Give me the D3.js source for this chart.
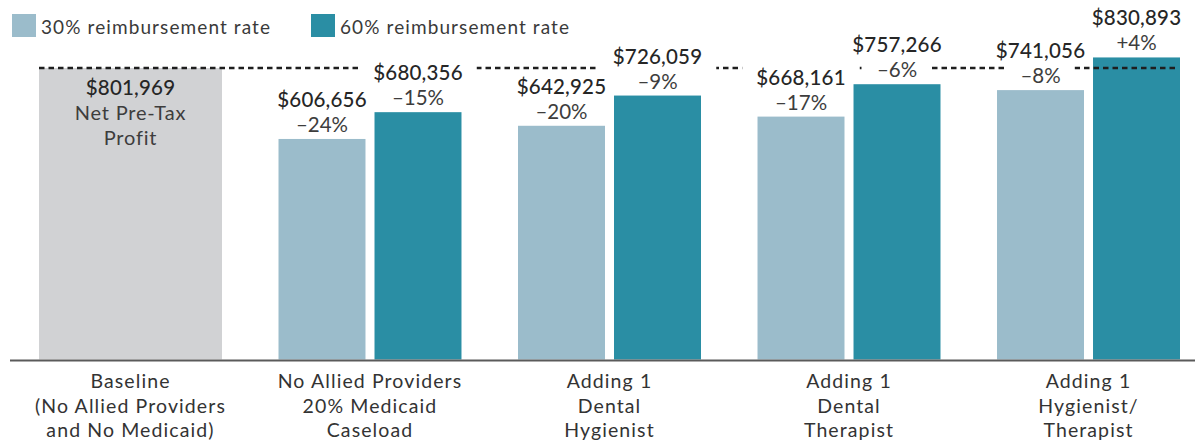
<!DOCTYPE html>
<html>
<head>
<meta charset="utf-8">
<script src="https://cdn.jsdelivr.net/npm/d3@7"></script>
<style>
  body { margin: 0; background: #fff; }
  svg { display: block; font-family: Lato, "Open Sans", sans-serif; }
</style>
</head>
<body>
<div id="chart"></div>
<script>
// data
const categories = ["Baseline", "No Allied 20%", "Adding Hygienist", "Adding Therapist", "Adding Hyg/Ther"]
const categoryLines = [
    ["Baseline", "(No Allied Providers", "and No Medicaid)"],
    ["No Allied Providers", "20% Medicaid", "Caseload"],
    ["Adding 1", "Dental", "Hygienist"],
    ["Adding 1", "Dental", "Therapist"],
    ["Adding 1", "Hygienist/", "Therapist"]
]
const baselineProfit = 801969
const baselineText = ["Net Pre-Tax", "Profit"]
const seriesNames = ["30% reimbursement rate", "60% reimbursement rate"]
const rate30 = [606656, 642925, 668161, 741056]
const rate60 = [680356, 726059, 757266, 830893]
const pct30 = ["\u201324%", "\u201320%", "\u201317%", "\u20138%"]
const pct60 = ["\u201315%", "\u20139%", "\u20136%", "+4%"]

const W = 1195, H = 443
const colors = { base: "#d1d2d4", r30: "#9bbccb", r60: "#2a8ea4" }

const svg = d3.select("#chart").append("svg")
    .attr("width", W)
    .attr("height", H)

const x = d3.scaleBand()
    .domain(categories)
    .range([39, 1180])
    .paddingInner(0.236)
    .paddingOuter(0)

const xInner = d3.scaleBand()
    .domain(["r30", "r60"])
    .range([0, x.bandwidth()])
    .paddingInner(0.094)

const y = d3.scaleLinear()
    .domain([0, 850000])
    .range([359.5, 50.5])

const fmt = d3.format("$,")

// rows for the paired bars
const bars = []
categories.slice(1).forEach((c, i) => {
    bars.push({ cat: c, key: "r30", value: rate30[i], pct: pct30[i] })
    bars.push({ cat: c, key: "r60", value: rate60[i], pct: pct60[i] })
})

// legend
const legend = svg.append("g")
legend.selectAll("g")
    .data(seriesNames)
    .join("g")
    .attr("transform", (d, i) => "translate(" + (12 + i * 299) + ",14)")
    .each(function(d, i) {
        const g = d3.select(this)
        g.append("rect").attr("width", 24).attr("height", 23)
            .attr("fill", i === 0 ? colors.r30 : colors.r60)
        g.append("text").attr("x", 29).attr("y", 19.5)
            .attr("font-size", 19).attr("letter-spacing", 1.1)
            .attr("fill", "#3a3a3a").text(d)
    })

// baseline bar
svg.append("rect")
    .attr("x", x(categories[0]))
    .attr("y", y(baselineProfit))
    .attr("width", x.bandwidth())
    .attr("height", y(0) - y(baselineProfit))
    .attr("fill", colors.base)

// grouped bars
svg.append("g").selectAll("rect")
    .data(bars)
    .join("rect")
    .attr("x", d => x(d.cat) + xInner(d.key))
    .attr("y", d => y(d.value))
    .attr("width", xInner.bandwidth())
    .attr("height", d => y(0) - y(d.value))
    .attr("fill", d => colors[d.key])

// dashed reference line at baseline profit
const refY = y(baselineProfit)
svg.append("line")
    .attr("x1", x.range()[0])
    .attr("x2", x.range()[1] - 2)
    .attr("y1", refY)
    .attr("y2", refY)
    .attr("stroke", "#1e1e1e")
    .attr("stroke-width", 2.6)
    .attr("stroke-dasharray", "5.5,4")
const maskTop = svg.append("g")

// bar labels
const labels = svg.append("g").attr("text-anchor", "middle")
const lab = labels.selectAll("g")
    .data(bars)
    .join("g")
    .attr("transform", d => "translate(" + (x(d.cat) + xInner(d.key) + xInner.bandwidth() / 2) + "," + y(d.value) + ")")
lab.append("text")
    .attr("y", -32)
    .attr("font-size", 20.5)
    .attr("font-weight", 500)
    .attr("letter-spacing", 0.2)
    .attr("fill", "#262626")
    .text(d => fmt(d.value))
lab.append("text")
    .attr("y", -7)
    .attr("font-size", 20.5)
    .attr("fill", "#3d3d3d")
    .text(d => d.pct)

// white gaps in the dashed line where a label crosses it
labels.selectAll("text").each(function() {
    const b = this.getBBox()
    const t = this.parentNode.transform.baseVal.consolidate().matrix
    const top = b.y + t.f, bottom = b.y + b.height + t.f + 4
    if (refY >= top && refY <= bottom) {
        maskTop.append("rect")
            .attr("x", b.x + t.e - 14)
            .attr("y", refY - 3)
            .attr("width", b.width + 28)
            .attr("height", 6)
            .attr("fill", "#fff")
    }
})

// baseline label inside the grey bar
const baseLab = svg.append("g")
    .attr("text-anchor", "middle")
    .attr("transform", "translate(" + (x(categories[0]) + x.bandwidth() / 2) + "," + refY + ")")
baseLab.append("text")
    .attr("y", 27)
    .attr("font-size", 20.5)
    .attr("font-weight", 500)
    .attr("letter-spacing", 0.2)
    .attr("fill", "#262626")
    .text(fmt(baselineProfit))
baseLab.selectAll("text.sub")
    .data(baselineText)
    .join("text")
    .attr("class", "sub")
    .attr("y", (d, i) => 52 + i * 25)
    .attr("font-size", 20)
    .attr("letter-spacing", 0.8)
    .attr("fill", "#3d3d3d")
    .text(d => d)

// axis line
svg.append("line")
    .attr("x1", 10).attr("x2", W)
    .attr("y1", y(0) + 1).attr("y2", y(0) + 1)
    .attr("stroke", "#5a5a5a")
    .attr("stroke-width", 2)

// category labels
const catLab = svg.append("g").attr("text-anchor", "middle")
catLab.selectAll("text")
    .data(categories)
    .join("text")
    .attr("x", d => x(d) + x.bandwidth() / 2)
    .attr("y", 388)
    .attr("font-size", 19.5)
    .attr("letter-spacing", 1.1)
    .attr("fill", "#333")
    .selectAll("tspan")
    .data((d, i) => categoryLines[i])
    .join("tspan")
    .attr("x", function() { return this.parentNode.getAttribute("x") })
    .attr("dy", (d, i) => i === 0 ? 0 : 24.5)
    .text(d => d)
</script>
</body>
</html>
